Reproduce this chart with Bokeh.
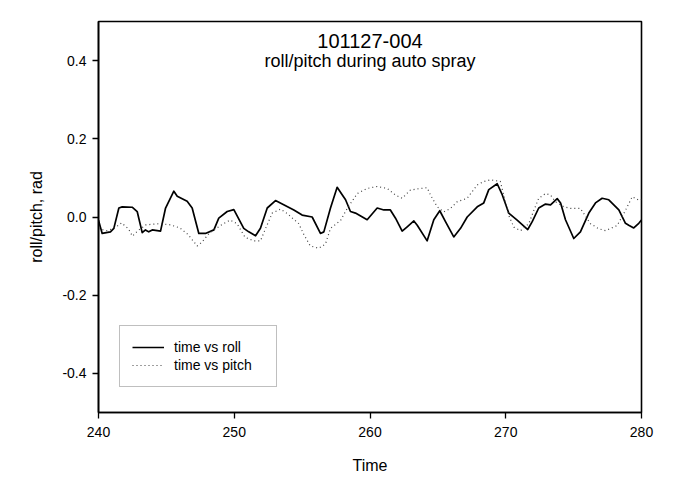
from bokeh.plotting import figure
from bokeh.models import Range1d, FixedTicker, PrintfTickFormatter, Label, Legend, LegendItem
from bokeh.embed import file_html
from bokeh.resources import INLINE

# ---- data ----
roll_time = [240.0, 240.27, 240.88, 241.13, 241.5, 241.75, 242.48, 242.85, 243.22, 243.46,
             243.7, 243.96, 244.57, 244.94, 245.55, 245.8, 246.53, 246.9, 247.39, 247.88,
             248.5, 248.86, 249.48, 249.97, 250.7, 251.07, 251.57, 251.93, 252.43, 253.04,
             253.5, 254.39, 255.0, 255.74, 256.35, 256.6, 257.09, 257.58, 257.95, 258.2,
             258.56, 258.93, 259.79, 260.53, 261.02, 261.5, 261.88, 262.37, 262.74, 263.23,
             263.48, 264.21, 264.7, 265.14, 265.56, 266.17, 266.67, 267.16, 267.9, 268.38,
             268.75, 269.37, 269.74, 270.22, 270.84, 271.62, 271.95, 272.43, 272.93, 273.3,
             273.79, 274.04, 274.4, 275.01, 275.5, 276.12, 276.61, 277.1, 277.59, 278.33,
             278.82, 279.06, 279.43, 279.8, 280.0]
roll_vals = [-0.008, -0.042, -0.038, -0.029, 0.023, 0.026, 0.025, 0.014, -0.04, -0.033,
             -0.038, -0.033, -0.036, 0.023, 0.066, 0.053, 0.04, 0.023, -0.042, -0.042,
             -0.033, -0.003, 0.014, 0.019, -0.029, -0.038, -0.048, -0.029, 0.023, 0.042,
             0.034, 0.018, 0.005, 0.0, -0.042, -0.038, 0.023, 0.076, 0.057, 0.044,
             0.014, 0.01, -0.007, 0.023, 0.018, 0.018, -0.003, -0.036, -0.025, -0.01,
             -0.021, -0.061, -0.007, 0.016, -0.012, -0.051, -0.029, 0.0, 0.026, 0.036,
             0.07, 0.085, 0.057, 0.01, -0.008, -0.032, -0.012, 0.023, 0.033, 0.031,
             0.047, 0.036, -0.007, -0.055, -0.038, 0.01, 0.036, 0.048, 0.044, 0.018,
             -0.016, -0.021, -0.028, -0.016, -0.008]

pitch_time = [240.0, 240.6, 241.2, 241.7, 242.2, 242.5, 242.9, 243.5, 244.5, 245.3,
              246.0, 246.6, 247.27, 247.6, 248.2, 249.2, 249.7, 250.2, 250.8, 251.44,
              251.93, 252.3, 252.8, 253.4, 253.9, 254.75, 255.1, 255.6, 256.23, 256.72,
              257.09, 257.83, 258.32, 259.06, 259.79, 260.53, 261.27, 261.88, 262.37, 262.98,
              263.72, 264.21, 264.46, 264.95, 265.44, 265.93, 266.42, 267.16, 267.9, 268.4,
              268.88, 269.6, 269.85, 270.22, 270.6, 271.09, 271.7, 272.07, 272.43, 272.93,
              273.3, 273.66, 274.28, 274.77, 275.5, 276.24, 276.85, 277.35, 278.2, 278.82,
              279.32, 279.8, 280.0]
pitch_vals = [-0.03, -0.035, -0.028, -0.015, -0.03, -0.049, -0.035, -0.02, -0.017, -0.02,
              -0.028, -0.045, -0.074, -0.065, -0.04, -0.017, -0.008, -0.017, -0.052, -0.061,
              -0.061, -0.03, 0.01, 0.02, 0.009, -0.017, -0.043, -0.074, -0.08, -0.069,
              -0.029, -0.009, 0.022, 0.06, 0.073, 0.078, 0.073, 0.056, 0.048, 0.069,
              0.073, 0.075, 0.056, 0.026, 0.013, 0.022, 0.039, 0.048, 0.082, 0.091,
              0.095, 0.091, 0.056, 0.004, -0.026, -0.035, -0.017, 0.017, 0.048, 0.06,
              0.056, 0.039, 0.026, 0.022, 0.022, -0.017, -0.03, -0.035, -0.022, 0.017,
              0.052, 0.043, 0.045]

x_ticks = [240, 250, 260, 270, 280]
y_ticks = [-0.4, -0.2, 0.0, 0.2, 0.4]
title_lines = ["101127-004", "roll/pitch during auto spray"]
series_names = ["time vs roll", "time vs pitch"]
x_label = "Time"
y_label = "roll/pitch, rad"

FONT = "Liberation Sans"

p = figure(width=688, height=487, output_backend="svg", toolbar_location=None,
           x_range=Range1d(240, 280), y_range=Range1d(-0.5, 0.5),
           min_border_left=98, min_border_right=47, min_border_top=21, min_border_bottom=75)

p.background_fill_color = "white"
p.border_fill_color = "white"
p.outline_line_color = "black"
p.outline_line_width = 1.6
p.xgrid.visible = False
p.ygrid.visible = False

for ax in (p.xaxis[0], p.yaxis[0]):
    ax.axis_line_color = "black"
    ax.axis_line_width = 1.6
    ax.major_tick_line_color = "black"
    ax.major_tick_line_width = 1.3
    ax.major_tick_in = 0
    ax.major_tick_out = 6
    ax.minor_tick_line_color = None
    ax.major_label_text_font = FONT
    ax.major_label_text_font_size = "14px"
    ax.major_label_text_color = "black"
    ax.axis_label_text_font = FONT
    ax.axis_label_text_font_style = "normal"
    ax.axis_label_text_font_size = "16px"
    ax.axis_label_text_color = "black"

p.xaxis.ticker = FixedTicker(ticks=x_ticks)
p.yaxis.ticker = FixedTicker(ticks=y_ticks)
p.xaxis.formatter = PrintfTickFormatter(format="%d")
p.yaxis.formatter = PrintfTickFormatter(format="%.1f")
p.xaxis.major_label_standoff = 8
p.yaxis.major_label_standoff = 6
p.xaxis.axis_label = x_label
p.yaxis.axis_label = y_label
p.xaxis.axis_label_standoff = 17
p.yaxis.axis_label_standoff = 14

r_roll = p.line(roll_time, roll_vals, line_color="black", line_width=1.7, line_join="round")
r_pitch = p.line(pitch_time, pitch_vals, line_color="#404040", line_width=1.2, line_dash="1 3")

legend = Legend(items=[LegendItem(label=series_names[0], renderers=[r_roll]),
                       LegendItem(label=series_names[1], renderers=[r_pitch])],
                location=(21, 25), orientation="vertical",
                border_line_color="#808080", border_line_width=1,
                background_fill_color="white", background_fill_alpha=1.0,
                padding=12, spacing=0, margin=0,
                label_height=18, glyph_height=18, glyph_width=32,
                label_standoff=10, label_width=90,
                label_text_font=FONT, label_text_font_size="14px",
                label_text_color="black")
p.add_layout(legend)

xmid = (p.x_range.start + p.x_range.end) / 2
yspan = p.y_range.end - p.y_range.start
frame_h = 487 - 21 - 75
p.add_layout(Label(x=xmid, y=p.y_range.end - 19.7 / frame_h * yspan, text=title_lines[0],
                   text_align="center", text_baseline="alphabetic",
                   text_font=FONT, text_font_size="20px", text_color="black"))
p.add_layout(Label(x=xmid, y=p.y_range.end - 39.7 / frame_h * yspan, text=title_lines[1],
                   text_align="center", text_baseline="alphabetic",
                   text_font=FONT, text_font_size="18px", text_color="black"))

open("out.html", "w").write(file_html(p, INLINE))
